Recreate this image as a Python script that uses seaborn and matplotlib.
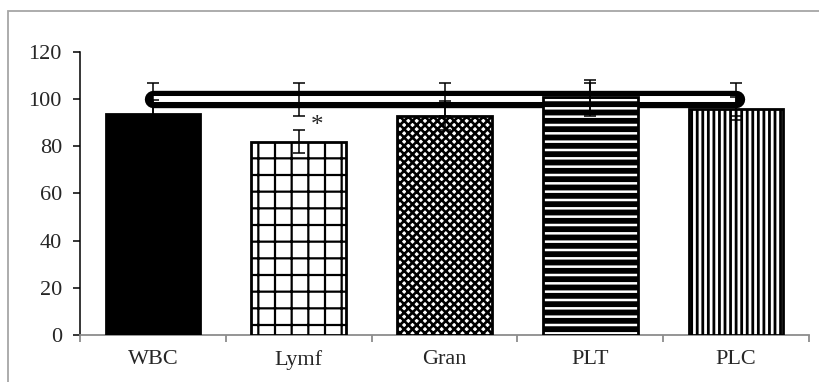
import matplotlib
matplotlib.use('Agg')
import matplotlib.pyplot as plt
from matplotlib.patches import Rectangle
import numpy as np
import pandas as pd
import seaborn as sns

# ==================== DATA ====================
categories = ['WBC', 'Lymf', 'Gran', 'PLT', 'PLC']
treated = [93.5, 82, 93, 101, 96]
treated_err = [6, 5, 6, 7, 5]
control = [100, 100, 100, 100, 100]
control_err = [7, 7, 7, 7, 7]
yticks = [0, 20, 40, 60, 80, 100, 120]
significant = ['Lymf']

hatches = [None, '+', 'xxxx', '--', '|||']
hatch_lw = [1.0, 1.6, 1.9, 4.2, 2.0]
faces = ['black', 'white', 'white', 'white', 'white']

sns.set_style('white')
plt.rcParams['font.family'] = ['Liberation Serif', 'DejaVu Serif']
plt.rcParams['hatch.color'] = 'black'
plt.rcParams['hatch.linewidth'] = 2.0

df = pd.DataFrame({'cat': categories, 'val': treated})

fig = plt.figure(figsize=(8.2, 3.82), dpi=100)
ax = fig.add_axes([0.0976, 0.123, 0.8890, 0.741])

sns.barplot(data=df, x='cat', y='val', order=categories, color='white',
            width=0.65, errorbar=None, ax=ax, zorder=3)

per_patch = hasattr(ax.patches[0], 'set_hatch_linewidth')
for i, p in enumerate(ax.patches):
    p.set_facecolor(faces[i])
    p.set_edgecolor('black')
    p.set_linewidth(2)
    if hatches[i]:
        p.set_hatch(hatches[i])
    if per_patch:
        p.set_hatch_linewidth(hatch_lw[i])

pos = np.arange(len(categories))

# control line: thick black with white core
ax.plot(pos, control, color='black', lw=12.5, solid_capstyle='round', zorder=2.5)
ax.plot(pos, control, color='white', lw=4.3, solid_capstyle='butt', zorder=2.6)

ax.errorbar(pos, control, yerr=control_err, fmt='none', ecolor='black',
            elinewidth=1.1, capsize=4.5, capthick=1.1, zorder=4)
ax.errorbar(pos, treated, yerr=treated_err, fmt='none', ecolor='black',
            elinewidth=1.1, capsize=4.5, capthick=1.1, zorder=4)

for c in significant:
    i = categories.index(c)
    ax.text(i + 0.08, treated[i] + treated_err[i] + 1.5, '*', fontsize=18,
            ha='left', va='center', zorder=5)

ax.set_ylim(0, 120)
ax.set_xlim(-0.5, len(categories) - 0.5)
ax.set_yticks(yticks)
ax.set_xlabel('')
ax.set_ylabel('')

for s in ['top', 'right']:
    ax.spines[s].set_visible(False)
ax.spines['left'].set_color('black')
ax.spines['left'].set_linewidth(1.1)
ax.spines['bottom'].set_color('#8c8c8c')
ax.spines['bottom'].set_linewidth(1.3)

ax.tick_params(axis='y', direction='out', length=5, width=1.1, color='black',
               labelsize=16, pad=8, left=True)
ax.tick_params(axis='x', which='major', length=0, labelsize=16, pad=11)
ax.set_xticks(np.arange(len(categories) + 1) - 0.5, minor=True)
ax.tick_params(axis='x', which='minor', direction='out', length=5, width=1.3,
               color='#8c8c8c', bottom=True)

# outer frame
fig.patches.append(Rectangle((8 / 820, -0.1), 1.2, 0.1 + 1 - 11 / 382,
                             transform=fig.transFigure, fill=False,
                             edgecolor='#a6a6a6', lw=1.3))

fig.savefig('out.png', dpi=100)
